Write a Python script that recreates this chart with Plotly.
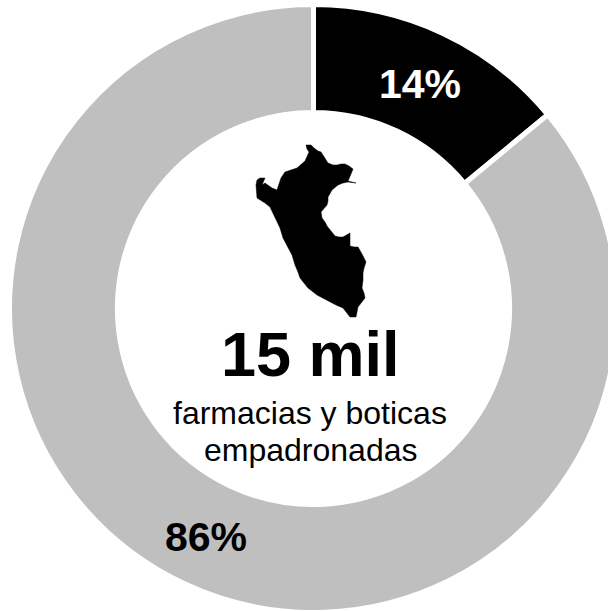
import plotly.graph_objects as go

labels = ["Empadronadas", "Resto"]
values = [14, 86]
slice_colors = ["#000000", "#BFBFBF"]

map_x = [306,311,314,318,321,324,328,333,337,341,345,349,353,351,350,348,352,356,348,343,338,332,328,328,327,324,321,322,325,327,330,335,339,343,350,350,354,358,362,366,364,363,363,362,364,365,358,357,356,350,343,336,330,317,308,300,298,295,292,287,283,280,275,270,265,257,256,257,260,265,262,265,272,277,281,285,297,305,309,307,306]
map_y = [145,145,148,151,152,157,163,165,165,164,164,166,169,174,177,181,182,183,182,183,185,190,197,201,205,209,212,218,222,226,230,236,237,237,233,246,247,247,254,262,268,273,280,288,293,298,307,312,317,317,308,305,302,295,288,278,272,265,255,246,238,228,218,207,203,198,185,180,178,178,185,183,188,190,178,172,168,161,152,149,145]

W, H = 620, 620
fig = go.Figure()
fig.add_trace(go.Pie(
    labels=labels, values=values, hole=0.645, sort=False, direction="clockwise", rotation=0,
    marker=dict(colors=slice_colors, line=dict(color="white", width=5)),
    textinfo="none", hoverinfo="skip", showlegend=False,
    domain=dict(x=[9.5/W, 617.5/W], y=[1-612.5/H, 1-4.5/H]),
))
fig.add_trace(go.Scatter(
    x=map_x, y=map_y, mode="lines", fill="toself", fillcolor="black",
    line=dict(color="black", width=0.5), hoverinfo="skip", showlegend=False,
))
fig.update_layout(
    width=W, height=H, margin=dict(l=0, r=0, t=0, b=0),
    paper_bgcolor="white", plot_bgcolor="rgba(0,0,0,0)",
    xaxis=dict(range=[230, 380], domain=[230/W, 380/W], visible=False),
    yaxis=dict(range=[330, 130], domain=[1-330/H, 1-130/H], visible=False),
)
F = "Liberation Sans"
def note(x, y, text, size, color="black", bold=False):
    fig.add_annotation(x=x/W, y=1-y/H, xref="paper", yref="paper", text=f"<b>{text}</b>" if bold else text,
                       showarrow=False, font=dict(family=F, size=size, color=color), xanchor="center", yanchor="middle")
note(420, 84, "14%", 41, "white", True)
note(206, 537, "86%", 41, "black", True)
note(310, 354, "15 mil", 63, "black", True)
note(310, 413, "farmacias y boticas", 32)
note(310, 450, "empadronadas", 32)
fig.write_html("out.html", config=dict(displayModeBar=False),
               post_script="document.body.style.margin='0';document.documentElement.style.overflow='hidden';")
